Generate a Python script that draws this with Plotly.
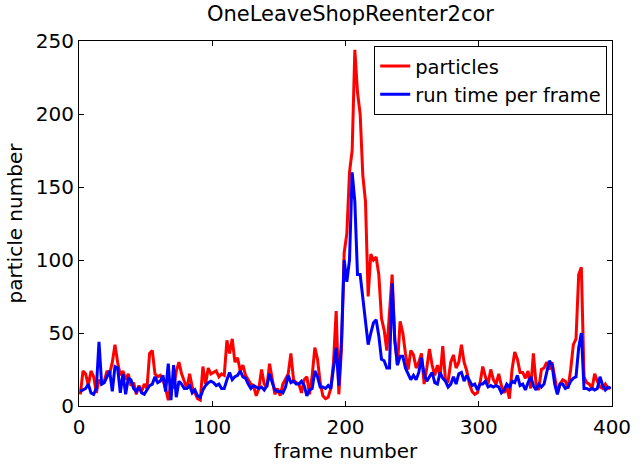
import plotly.graph_objects as go

# frame numbers (every second frame)
frames = list(range(1, 400, 2))

# particle counts (red)
particles_a = [8, 24, 22, 14, 24, 20, 9, 18, 15, 17, 24, 22, 30, 42, 30, 21, 24, 18, 22, 14,
               16, 8, 14, 10, 15, 12, 36, 38, 22, 20, 21, 18, 12, 4, 16, 12, 24, 30, 22, 17,
               12, 22, 13, 9, 5, 4, 27, 15, 26, 22]
particles_b = [23, 24, 20, 22, 21, 45, 36, 46, 30, 33, 24, 28, 21, 18, 15, 14, 7, 12, 25, 15,
               13, 29, 18, 8, 12, 7, 15, 19, 22, 36, 18, 16, 15, 9, 18, 20, 8, 21, 40, 32,
               16, 7, 5, 6, 12, 30, 65, 8, 40, 105]
particles_c = [118, 160, 175, 244, 215, 200, 158, 140, 75, 104, 100, 102, 90, 60, 52, 38, 65, 90, 45, 28,
               58, 50, 36, 25, 38, 35, 26, 30, 36, 15, 26, 39, 28, 21, 28, 20, 41, 18, 17, 30,
               35, 26, 30, 42, 30, 24, 15, 10, 8, 9]
particles_d = [16, 27, 20, 15, 25, 18, 15, 22, 14, 9, 13, 5, 25, 37, 32, 23, 23, 19, 24, 12,
               36, 15, 11, 25, 26, 30, 25, 30, 20, 9, 15, 18, 17, 12, 25, 42, 46, 90, 95, 20,
               16, 15, 12, 22, 17, 13, 12, 15, 12, 13]

# run time per frame (blue)
runtime_a = [10, 11, 12, 15, 9, 8, 12, 44, 15, 16, 20, 24, 10, 27, 26, 9, 22, 8, 19, 18,
             12, 10, 13, 9, 8, 11, 14, 15, 20, 16, 17, 21, 10, 29, 4, 28, 6, 17, 15, 12,
             12, 14, 9, 11, 7, 6, 11, 14, 16, 17]
runtime_b = [16, 14, 15, 12, 12, 18, 23, 18, 20, 21, 24, 20, 19, 15, 12, 14, 13, 12, 13, 11,
             14, 22, 16, 11, 10, 10, 9, 13, 21, 16, 17, 15, 15, 17, 14, 7, 11, 12, 24, 20,
             13, 13, 12, 14, 12, 28, 40, 14, 45, 100]
runtime_c = [85, 100, 160, 140, 90, 90, 75, 60, 42, 50, 57, 59, 48, 32, 31, 26, 26, 84, 45, 28,
             34, 34, 26, 22, 18, 21, 18, 23, 33, 22, 17, 20, 23, 16, 15, 23, 19, 17, 13, 15,
             20, 15, 22, 23, 17, 21, 17, 14, 15, 11]
runtime_d = [15, 15, 17, 13, 14, 13, 14, 13, 9, 11, 15, 13, 17, 16, 21, 14, 15, 11, 16, 20,
             14, 11, 15, 13, 15, 24, 31, 28, 15, 8, 15, 15, 12, 13, 17, 19, 20, 40, 50, 12,
             12, 11, 12, 11, 12, 20, 14, 11, 13, 12]

particles = particles_a + particles_b + particles_c + particles_d
runtime = runtime_a + runtime_b + runtime_c + runtime_d

x_ticks = [0, 100, 200, 300, 400]
y_ticks = [0, 50, 100, 150, 200, 250]

FONT = "DejaVu Sans"

fig = go.Figure()
fig.add_trace(go.Scatter(x=frames, y=particles, mode="lines", name="particles",
                         line=dict(color="#ff0000", width=3)))
fig.add_trace(go.Scatter(x=frames, y=runtime, mode="lines", name="run time per frame",
                         line=dict(color="#0000ff", width=3)))

axis_common = dict(showline=True, linecolor="black", linewidth=1, mirror="allticks",
                   ticks="inside", ticklen=5, tickcolor="black", tickwidth=1,
                   showgrid=False, zeroline=False,
                   tickfont=dict(family=FONT, size=20, color="black"))

fig.update_layout(
    width=643, height=468,
    margin=dict(l=79, r=21, t=41, b=49),
    paper_bgcolor="white", plot_bgcolor="white",
    font=dict(family=FONT, color="black"),
    title=dict(text="OneLeaveShopReenter2cor", x=(79 + 622) / 2 / 643, xanchor="center",
               y=1 - 14 / 468, yanchor="middle", yref="container",
               font=dict(family=FONT, size=21, color="black")),
    xaxis=dict(range=[0, 400], tickvals=x_ticks, ticktext=[str(v) for v in x_ticks],
               ticklabelstandoff=3,
               title=dict(text="frame number", standoff=3,
                          font=dict(family=FONT, size=20, color="black")),
               **axis_common),
    yaxis=dict(range=[0, 250], tickvals=y_ticks, ticktext=[str(v) for v in y_ticks],
               title=dict(text="particle number", standoff=7,
                          font=dict(family=FONT, size=20, color="black")),
               **axis_common),
    legend=dict(x=0.991, y=0.987, xanchor="right", yanchor="top",
                bgcolor="white", bordercolor="black", borderwidth=1,
                font=dict(family=FONT, size=19.5, color="black"),
                tracegroupgap=0, itemwidth=30),
    showlegend=True,
)

fig.write_html("out.html")
